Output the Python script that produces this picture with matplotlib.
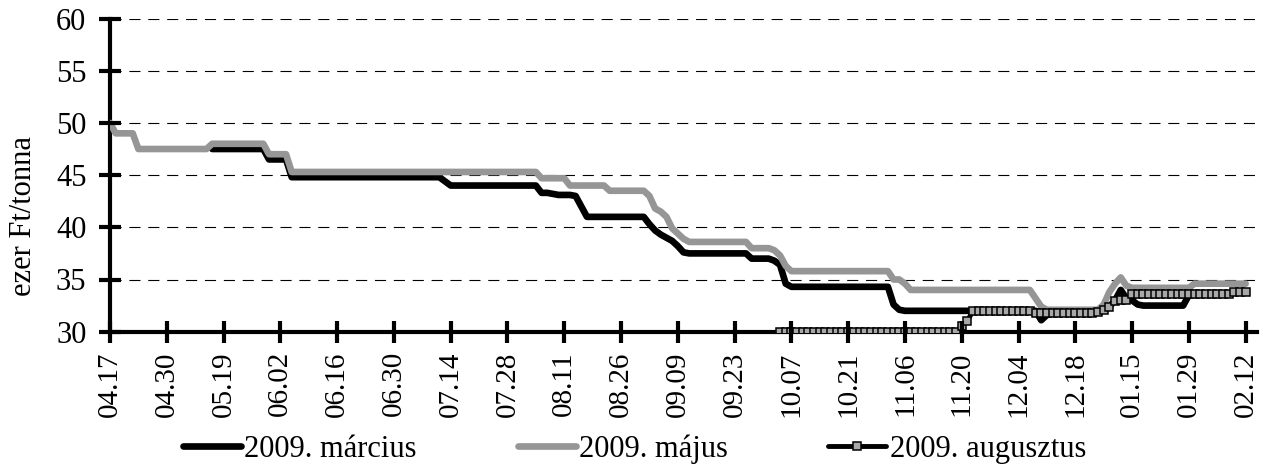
import numpy as np
import matplotlib
matplotlib.use('Agg')
import matplotlib.pyplot as plt

nan = np.nan

# tick labels, one every 10 trading days
TICK_LABELS = ['04.17', '04.30', '05.19', '06.02', '06.16', '06.30', '07.14',
               '07.28', '08.11', '08.26', '09.09', '09.23', '10.07', '10.21',
               '11.06', '11.20', '12.04', '12.18', '01.15', '01.29', '02.12']

# daily prices (ezer Ft/tonna), one row = 10 trading days
MARCIUS = [
    nan, nan, nan, nan, nan, nan, nan, nan, nan, nan,
    nan, nan, nan, nan, nan, nan, nan, nan, 47.5, 47.5,
    47.5, 47.5, 47.5, 47.5, 47.5, 47.5, 47.5, 47.5, 46.5, 46.5,
    46.5, 46.5, 44.8, 44.8, 44.8, 44.8, 44.8, 44.8, 44.8, 44.8,
    44.8, 44.8, 44.8, 44.8, 44.8, 44.8, 44.8, 44.8, 44.8, 44.8,
    44.8, 44.8, 44.8, 44.8, 44.8, 44.8, 44.8, 44.8, 44.8, 44.4,
    44.0, 44.0, 44.0, 44.0, 44.0, 44.0, 44.0, 44.0, 44.0, 44.0,
    44.0, 44.0, 44.0, 44.0, 44.0, 44.0, 43.3, 43.3, 43.2, 43.1,
    43.1, 43.1, 43.0, 42.0, 41.0, 41.0, 41.0, 41.0, 41.0, 41.0,
    41.0, 41.0, 41.0, 41.0, 41.0, 40.3, 39.7, 39.3, 39.0, 38.7,
    38.2, 37.6, 37.5, 37.5, 37.5, 37.5, 37.5, 37.5, 37.5, 37.5,
    37.5, 37.5, 37.5, 37.0, 37.0, 37.0, 37.0, 36.8, 36.4, 34.6,
    34.3, 34.3, 34.3, 34.3, 34.3, 34.3, 34.3, 34.3, 34.3, 34.3,
    34.3, 34.3, 34.3, 34.3, 34.3, 34.3, 34.3, 34.3, 32.6, 32.1,
    32.0, 32.0, 32.0, 32.0, 32.0, 32.0, 32.0, 32.0, 32.0, 32.0,
    32.0, 32.0, 32.0, 32.0, 32.0, 32.0, 32.0, 32.0, 32.0, 32.0,
    32.0, 32.0, 32.0, 32.0, 31.1, 31.6, 31.75, 31.75, 31.75, 31.75,
    31.75, 31.75, 31.75, 31.75, 31.9, 32.1, 32.4, 33.0, 34.0, 33.2,
    33.0, 32.6, 32.5, 32.5, 32.5, 32.5, 32.5, 32.5, 32.5, 32.5,
    33.5, 33.6, 33.6, 33.6, 33.6, 33.6, 33.6, 33.6, 33.8, 33.8,
    33.8,
]

MAJUS = [
    50.0, 49.0, 49.0, 49.0, 49.0, 47.5, 47.5, 47.5, 47.5, 47.5,
    47.5, 47.5, 47.5, 47.5, 47.5, 47.5, 47.5, 47.5, 48.0, 48.0,
    48.0, 48.0, 48.0, 48.0, 48.0, 48.0, 48.0, 48.0, 47.0, 47.0,
    47.0, 47.0, 45.3, 45.3, 45.3, 45.3, 45.3, 45.3, 45.3, 45.3,
    45.3, 45.3, 45.3, 45.3, 45.3, 45.3, 45.3, 45.3, 45.3, 45.3,
    45.3, 45.3, 45.3, 45.3, 45.3, 45.3, 45.3, 45.3, 45.3, 45.3,
    45.3, 45.3, 45.3, 45.3, 45.3, 45.3, 45.3, 45.3, 45.3, 45.3,
    45.3, 45.3, 45.3, 45.3, 45.3, 45.3, 44.7, 44.7, 44.7, 44.7,
    44.7, 44.0, 44.0, 44.0, 44.0, 44.0, 44.0, 44.0, 43.5, 43.5,
    43.5, 43.5, 43.5, 43.5, 43.5, 43.0, 41.8, 41.5, 41.0, 39.9,
    39.4, 38.9, 38.6, 38.6, 38.6, 38.6, 38.6, 38.6, 38.6, 38.6,
    38.6, 38.6, 38.6, 38.0, 38.0, 38.0, 38.0, 37.8, 37.3, 36.3,
    35.8, 35.8, 35.8, 35.8, 35.8, 35.8, 35.8, 35.8, 35.8, 35.8,
    35.8, 35.8, 35.8, 35.8, 35.8, 35.8, 35.8, 35.8, 35.0, 35.0,
    34.6, 34.0, 34.0, 34.0, 34.0, 34.0, 34.0, 34.0, 34.0, 34.0,
    34.0, 34.0, 34.0, 34.0, 34.0, 34.0, 34.0, 34.0, 34.0, 34.0,
    34.0, 34.0, 34.0, 33.2, 32.4, 32.1, 32.1, 32.1, 32.1, 32.1,
    32.1, 32.1, 32.1, 32.1, 32.1, 32.6, 33.8, 34.6, 35.2, 34.4,
    34.2, 34.2, 34.2, 34.2, 34.2, 34.2, 34.2, 34.2, 34.2, 34.2,
    34.2, 34.6, 34.6, 34.6, 34.6, 34.6, 34.6, 34.6, 34.6, 34.6,
    34.6,
]

AUGUSZTUS = [
    nan, nan, nan, nan, nan, nan, nan, nan, nan, nan,
    nan, nan, nan, nan, nan, nan, nan, nan, nan, nan,
    nan, nan, nan, nan, nan, nan, nan, nan, nan, nan,
    nan, nan, nan, nan, nan, nan, nan, nan, nan, nan,
    nan, nan, nan, nan, nan, nan, nan, nan, nan, nan,
    nan, nan, nan, nan, nan, nan, nan, nan, nan, nan,
    nan, nan, nan, nan, nan, nan, nan, nan, nan, nan,
    nan, nan, nan, nan, nan, nan, nan, nan, nan, nan,
    nan, nan, nan, nan, nan, nan, nan, nan, nan, nan,
    nan, nan, nan, nan, nan, nan, nan, nan, nan, nan,
    nan, nan, nan, nan, nan, nan, nan, nan, nan, nan,
    nan, nan, nan, nan, nan, nan, nan, nan, 30.0, 30.0,
    30.0, 30.0, 30.0, 30.0, 30.0, 30.0, 30.0, 30.0, 30.0, 30.0,
    30.0, 30.0, 30.0, 30.0, 30.0, 30.0, 30.0, 30.0, 30.0, 30.0,
    30.0, 30.0, 30.0, 30.0, 30.0, 30.0, 30.0, 30.0, 30.0, 30.0,
    30.5, 31.05, 32.0, 32.0, 32.0, 32.0, 32.0, 32.0, 32.0, 32.0,
    32.0, 32.0, 32.0, 31.8, 31.8, 31.8, 31.8, 31.8, 31.8, 31.8,
    31.8, 31.8, 31.8, 31.8, 31.9, 32.1, 32.4, 32.9, 33.0, 33.0,
    33.6, 33.6, 33.6, 33.6, 33.6, 33.6, 33.6, 33.6, 33.6, 33.6,
    33.6, 33.6, 33.6, 33.6, 33.6, 33.6, 33.6, 33.6, 33.8, 33.8,
    33.8,
]

Y_TICKS = [30, 35, 40, 45, 50, 55, 60]

plt.rcParams['font.family'] = ['Liberation Serif', 'DejaVu Serif']

fig = plt.figure(figsize=(12.69, 4.70), dpi=100)
ax = fig.add_axes([110 / 1269, 1 - 331.7 / 470, 1147 / 1269, 313.2 / 470])

x = np.arange(len(MAJUS))

# dashed horizontal gridlines, below the data
for yv in Y_TICKS[1:]:
    ax.axhline(yv, color='black', lw=0.8, ls=(0, (10, 7)), zorder=1)

ax.plot(x, MARCIUS, color='black', lw=4.8, solid_joinstyle='round',
        solid_capstyle='round', label='2009. március', zorder=2)
ax.plot(x, MAJUS, color='#969696', lw=4.8, solid_joinstyle='round',
        solid_capstyle='round', label='2009. május', zorder=2)
ax.plot(x, AUGUSZTUS, color='black', lw=3.5, marker='s', markersize=6,
        markerfacecolor='#a8a8a8', markeredgecolor='black', markeredgewidth=1.1,
        solid_capstyle='round', label='2009. augusztus', zorder=2.2)

ax.set_axisbelow(False)
ax.set_xlim(0, 202)
ax.set_ylim(30, 60)
ax.set_yticks(Y_TICKS)
ax.set_xticks(range(0, len(MAJUS), 10))
ax.set_xticklabels(TICK_LABELS, rotation=90)

for side in ['top', 'right']:
    ax.spines[side].set_visible(False)
for side in ['left', 'bottom']:
    ax.spines[side].set_linewidth(3)
    ax.spines[side].set_zorder(1.8)

ax.tick_params(axis='both', direction='inout', length=16, width=3)
ax.tick_params(axis='y', labelsize=22, pad=9)
ax.tick_params(axis='x', labelsize=21, pad=6)

ax.set_ylabel('ezer Ft/tonna', fontsize=22)
ax.yaxis.set_label_coords(-0.063, 0.37)

fig.legend(loc='center', bbox_to_anchor=(0.5, 1 - 449 / 470), ncol=3,
           frameon=False, fontsize=22, handlelength=1.9, handletextpad=0.1,
           columnspacing=3.3, borderaxespad=0)

fig.savefig('out.png', dpi=100)
